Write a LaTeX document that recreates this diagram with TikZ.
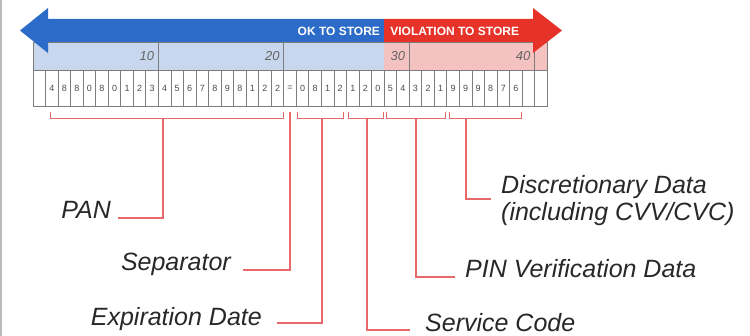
\documentclass[tikz,border=0pt]{standalone}
\usepackage{fontspec}
\setmainfont{Liberation Sans}
\definecolor{okblue}{RGB}{44,108,200}
\definecolor{badred}{RGB}{230,50,40}
\definecolor{hdrblue}{RGB}{200,214,238}
\definecolor{hdrpink}{RGB}{245,194,194}
\definecolor{cellgrid}{RGB}{125,125,125}
\definecolor{brk}{RGB}{232,105,105}
\definecolor{labeltext}{RGB}{40,40,40}
\definecolor{digit}{RGB}{75,75,75}
\begin{document}
\begin{tikzpicture}[x=1pt,y=-1pt,
  grid/.style={draw=cellgrid,line width=0.8pt},
  digitlbl/.style={font=\fontsize{9}{10}\selectfont,text=digit,inner sep=0pt},
  ruler/.style={font=\itshape\fontsize{13}{14}\selectfont,text=cellgrid!80!black,inner sep=0pt,anchor=east},
  banner/.style={font=\bfseries\fontsize{12}{13}\selectfont,text=white,inner sep=0pt},
  fieldlbl/.style={font=\itshape\fontsize{25}{27}\selectfont,text=labeltext,inner sep=0pt},
  brace/.style={draw=brk,line width=1pt},
  lead/.style={draw=brk,line width=1.1pt}]
\useasboundingbox (0,0) rectangle (750,336);
% frame edge on the left
\draw[gray!55,line width=2pt] (1,0) -- (1,336);

% cell geometry: 41 cells starting at x = 33
\def\xo{33}\def\cw{12.54}

% header band with the ruler numbers
\fill[hdrblue] (\xo,42) rectangle ({\xo+28*\cw},70);
\fill[hdrpink] ({\xo+28*\cw},42) rectangle ({\xo+41*\cw},70);
\draw[grid] (\xo,42) rectangle ({\xo+41*\cw},70);
\foreach \k in {10,20,30,40}{
  \draw[grid] ({\xo+\k*\cw},42) -- ({\xo+\k*\cw},70);
  \node[ruler] (r\k) at ({\xo+\k*\cw-4},56) {\k};
}

% the 41 character cells
\foreach \i in {0,...,40}{
  \draw[grid,fill=white] ({\xo+\i*\cw},70) rectangle ({\xo+(\i+1)*\cw},106);
}
\foreach \d [count=\i from 1] in {4,8,8,0,8,0,1,2,3,4,5,6,7,8,9,8,1,2,2,=,0,8,1,2,1,2,0,5,4,3,2,1,9,9,9,8,7,6}{
  \node[digitlbl] (c\i) at ({\xo+(\i+0.5)*\cw},88) {\d};
}

% storage arrows
\fill[okblue] ({\xo+28*\cw},19) -- (48,19) -- (48,8) -- (20,30.5) -- (48,53) -- (48,42) -- ({\xo+28*\cw},42) -- cycle;
\fill[badred] ({\xo+28*\cw},19) -- (533,19) -- (533,8) -- (562,30.5) -- (533,53) -- (533,42) -- ({\xo+28*\cw},42) -- cycle;
\node[banner,anchor=east] (ok) at ({\xo+28*\cw-4},31) {OK TO STORE};
\node[banner,anchor=west] (bad) at ({\xo+28*\cw+6},31) {VIOLATION TO STORE};

% field braces under the cells
\draw[brace] (50,112) |- (283,119) -- (283,112);
\draw[brace] (297,112) |- (343,119) -- (343,112);
\draw[brace] (348,112) |- (383,119) -- (383,112);
\draw[brace] (386,112) |- (445,119) -- (445,112);
\draw[brace] (449,112) |- (521,119) -- (521,112);
\coordinate (panB) at (163,119);
\coordinate (sepB) at (290,112);
\coordinate (expB) at (322,119);
\coordinate (svcB) at (367,119);
\coordinate (pinB) at (416,119);
\coordinate (disB) at (466,119);

% field names
\node[fieldlbl,anchor=base east] (pan) at (111,219) {PAN};
\node[fieldlbl,anchor=base east] (sep) at (231,271) {Separator};
\node[fieldlbl,anchor=base east] (exp) at (262,326) {Expiration Date};
\node[fieldlbl,anchor=base west] (svc) at (425,332) {Service Code};
\node[fieldlbl,anchor=base west] (pin) at (465,278) {PIN Verification Data};
\node[fieldlbl,anchor=base west,align=left] (dis) at (501,221) {Discretionary Data\\(including CVV/CVC)};

% leader lines
\draw[lead] (panB) |- ([xshift=7pt]pan.east |- 0,218);
\draw[lead] (sepB) |- (243,270);
\draw[lead] (expB) |- (277,323);
\draw[lead] (svcB) |- (410,330);
\draw[lead] (pinB) |- (455,277);
\draw[lead] (disB) |- (491,199);
\end{tikzpicture}
\end{document}
